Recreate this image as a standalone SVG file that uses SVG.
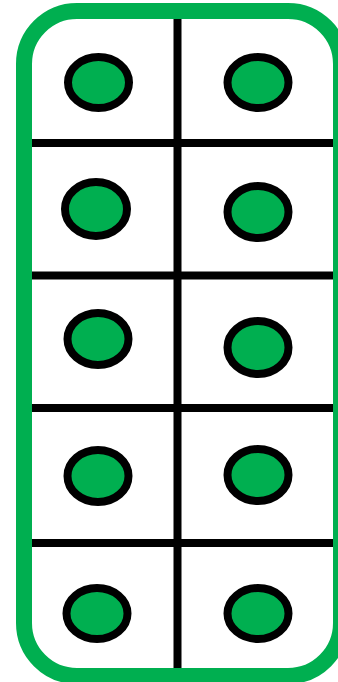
<svg xmlns="http://www.w3.org/2000/svg" width="338" height="682" viewBox="0 0 338 682">
<style>
.frame{fill:#ffffff;stroke:#00AF50;stroke-width:16}
.grid{stroke:#000000;stroke-width:8;fill:none}
.dot{fill:#00AF50;stroke:#000000;stroke-width:8}
</style>
<rect width="338" height="682" fill="#ffffff"/>
<g id="frame">
<rect class="frame" x="24" y="11" width="317" height="665" rx="53" ry="53"/>
</g>
<g id="connectors" class="grid">
<line x1="177.5" y1="19" x2="177.5" y2="668"/>
<line x1="32" y1="143" x2="333" y2="143"/>
<line x1="32" y1="275.5" x2="333" y2="275.5"/>
<line x1="32" y1="408" x2="333" y2="408"/>
<line x1="32" y1="543" x2="333" y2="543"/>
</g>
<g id="dot-1-1"><ellipse class="dot" cx="98.5" cy="82.5" rx="30.5" ry="25.5"/></g>
<g id="dot-1-2"><ellipse class="dot" cx="258" cy="82.5" rx="30.5" ry="25.5"/></g>
<g id="dot-2-1"><ellipse class="dot" cx="96" cy="209" rx="31" ry="27"/></g>
<g id="dot-2-2"><ellipse class="dot" cx="258" cy="212" rx="30.5" ry="26"/></g>
<g id="dot-3-1"><ellipse class="dot" cx="98" cy="339" rx="30.5" ry="26"/></g>
<g id="dot-3-2"><ellipse class="dot" cx="258" cy="347.5" rx="30.5" ry="26.5"/></g>
<g id="dot-4-1"><ellipse class="dot" cx="98" cy="476" rx="30.5" ry="26"/></g>
<g id="dot-4-2"><ellipse class="dot" cx="258" cy="475" rx="30.5" ry="26"/></g>
<g id="dot-5-1"><ellipse class="dot" cx="97" cy="613.5" rx="30.5" ry="25.5"/></g>
<g id="dot-5-2"><ellipse class="dot" cx="258" cy="613.5" rx="30.5" ry="25.5"/></g>
</svg>
